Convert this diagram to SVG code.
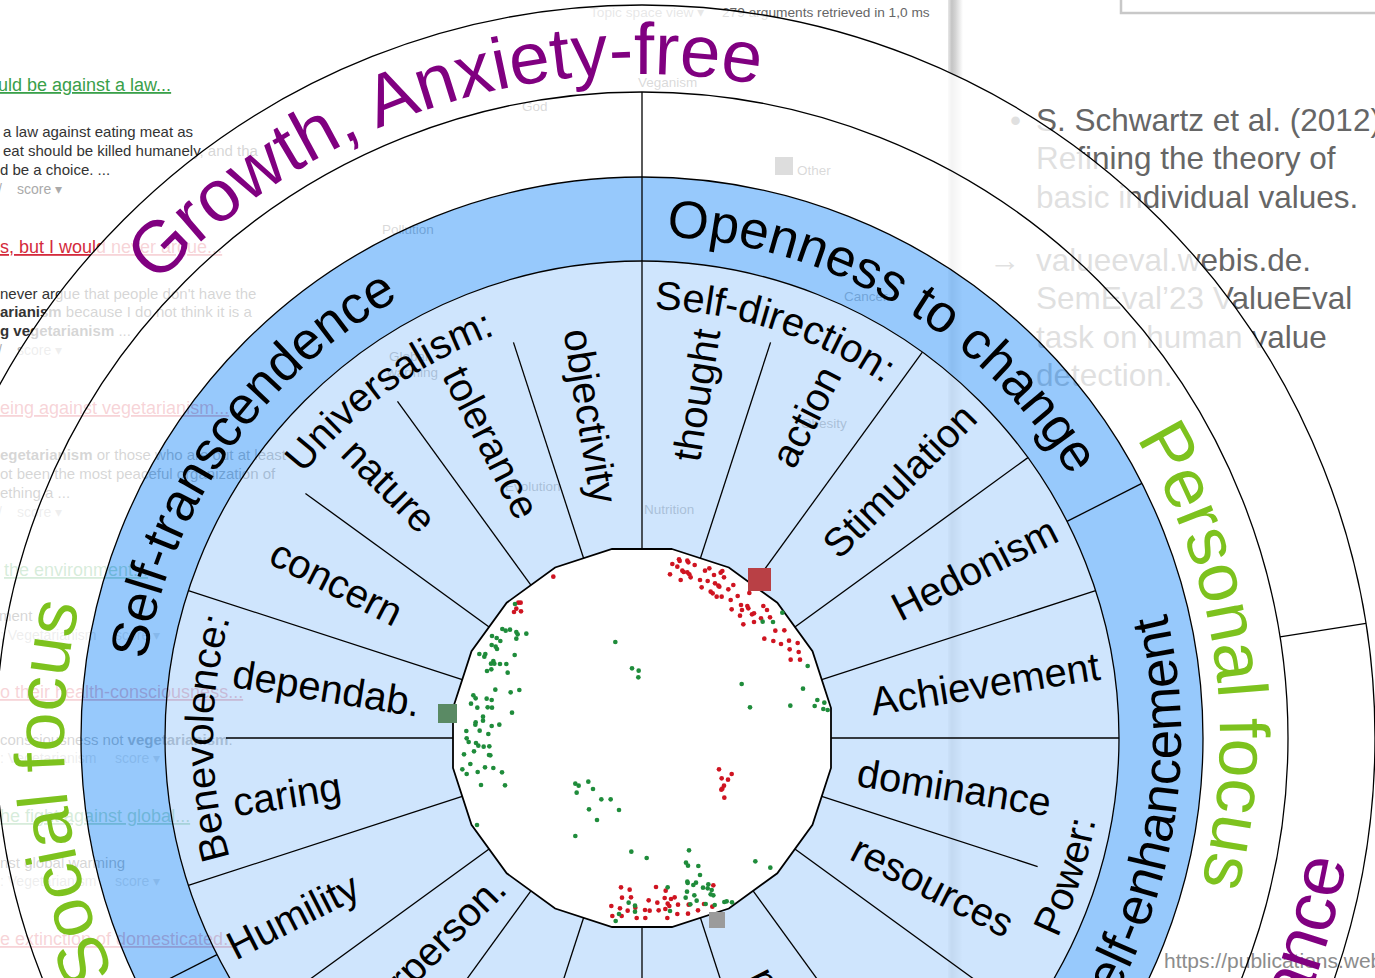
<svg xmlns="http://www.w3.org/2000/svg" width="1375" height="978" viewBox="0 0 1375 978">
<defs>
<style>
text{font-family:"Liberation Sans",Arial,"DejaVu Sans",sans-serif}
.bg{font-size:15px;fill:#333}
.lk{font-size:18px;text-decoration:underline}
.lg{fill:#3aa04a}
.lr{fill:#d42a3c}
.sc{font-size:14px;fill:#aaa}
.tp{font-size:13.5px;fill:#444}
.sl{font-size:31.5px;fill:#666}
.ln{stroke:#000;stroke-width:1.3;fill:none}
.v{font-size:40px;fill:#000}
.h{font-size:53px;fill:#000}
.g{font-size:70px;fill:#7dc21e}
.p{font-size:73px;fill:#800080}
.dr circle{fill:#cf1421}
.dg circle{fill:#1f8c3b}
</style>
<linearGradient id="bar" x1="0" x2="1" y1="0" y2="0">
<stop offset="0" stop-color="#e8e8e8"/><stop offset="0.25" stop-color="#c4c4c4"/><stop offset="0.5" stop-color="#d4d4d4"/><stop offset="1" stop-color="#ffffff"/>
</linearGradient>
<path id="top429" d="M -422.48 -74.49 A 429 429 0 0 1 422.48 -74.49"/>
<path id="bot461" d="M -454 80.05 A 461 461 0 0 0 454 80.05"/>
<path id="top502" d="M -494.37 -87.17 A 502 502 0 0 1 494.37 -87.17"/>
<path id="bot539" d="M -530.81 93.6 A 539 539 0 0 0 530.81 93.6"/>
<path id="top578" d="M -569.22 -100.37 A 578 578 0 0 1 569.22 -100.37"/>
<path id="top664" d="M -653.91 -115.3 A 664 664 0 0 1 653.91 -115.3"/>
<path id="bot715" d="M -704.14 124.16 A 715 715 0 0 0 704.14 124.16"/>
</defs>

<rect x="0" y="0" width="1375" height="978" fill="#fff"/>

<g id="background">
<rect x="948" y="0" width="15" height="978" fill="url(#bar)"/>
<rect x="1121" y="-20" width="300" height="33" fill="#fff" stroke="#c8c8c8" stroke-width="2.5"/>
<text x="590" y="17" font-size="13.7" fill="#888">Topic space view ▾</text>
<text x="722" y="17" font-size="13.7" fill="#666">279 arguments retrieved in 1,0 ms</text>

<text class="tp" x="638" y="87">Veganism</text>
<text class="tp" x="522" y="111">God</text>
<rect x="775" y="157" width="18" height="18" fill="#555"/>
<text class="tp" x="797" y="175">Other</text>
<text class="tp" x="382" y="234">Pollution</text>
<text class="tp" x="844" y="301">Cancer</text>
<text class="tp" x="801" y="428">Obesity</text>
<text class="tp" x="505" y="491">Evolution</text>
<text class="tp" x="644" y="514">Nutrition</text>
<text class="tp" x="389" y="361">Global</text>
<text class="tp" x="387" y="377">warming</text>

<text class="lk lg" x="-2" y="91">uld be against a law...</text>
<text class="bg" x="3" y="137">a law against eating meat as</text>
<text class="bg" x="3" y="156">eat should be killed humanely, and tha</text>
<text class="bg" x="0" y="175">d be a choice. ...</text>
<text class="sc" x="-2" y="194">/</text><text class="sc" x="17" y="194">score ▾</text>
<text class="lk lr" x="0" y="253">s, but I would never argue...</text>
<text class="bg" x="0" y="299">never argue that people don't have the</text>
<text class="bg" x="0" y="317"><tspan font-weight="bold">arianism</tspan> because I do not think it is a</text>
<text class="bg" x="0" y="336"><tspan font-weight="bold">g vegetarianism</tspan> ...</text>
<text class="sc" x="-2" y="355">/</text><text class="sc" x="17" y="355">score ▾</text>
<text class="lk lr" x="0" y="414">eing against vegetarianism...</text>
<text class="bg" x="0" y="460"><tspan font-weight="bold">egetarianism</tspan> or those who are out at least</text>
<text class="bg" x="0" y="479">ot been the most peaceful organization of</text>
<text class="bg" x="0" y="498">ething a ...</text>
<text class="sc" x="-2" y="517">/</text><text class="sc" x="17" y="517">score ▾</text>
<text class="lk lg" x="4" y="576">the environment...</text>
<text class="bg" x="-1" y="621">ment</text>
<text class="sc" x="0" y="640">: Vegetarianism</text><text class="sc" x="115" y="640">score ▾</text>
<text class="lk lr" x="0" y="698">o their health-consciousness...</text>
<text class="bg" x="0" y="745">consciousness not <tspan font-weight="bold">vegetarianism</tspan>.</text>
<text class="sc" x="0" y="763">: Vegetarianism</text><text class="sc" x="115" y="763">score ▾</text>
<text class="lk lg" x="0" y="822">he fight against global...</text>
<text class="bg" x="0" y="868">nst global warming</text>
<text class="sc" x="0" y="886">: Vegetarianism</text><text class="sc" x="115" y="886">score ▾</text>
<text class="lk lr" x="0" y="945">e extinction of domesticated...</text>

<text class="sl" x="1010" y="131">•</text>
<text class="sl" x="1036" y="131">S. Schwartz et al. (2012).</text>
<text class="sl" x="1036" y="169">Refining the theory of</text>
<text class="sl" x="1036" y="208">basic individual values.</text>
<text class="sl" x="989" y="271">→</text>
<text class="sl" x="1036" y="271">valueeval.webis.de.</text>
<text class="sl" x="1036" y="309">SemEval’23 ValueEval</text>
<text class="sl" x="1036" y="348">task on human value</text>
<text class="sl" x="1036" y="386">detection.</text>
</g>

<g id="wheel" transform="translate(642 738)">
<g id="rings">
<path fill="#fff" fill-opacity="0.8" fill-rule="evenodd" d="M -733 0 A 733 733 0 1 1 733 0 A 733 733 0 1 1 -733 0 Z M -561 0 A 561 561 0 1 1 561 0 A 561 561 0 1 1 -561 0 Z"/>
<path fill="#7dbbfb" fill-opacity="0.8" fill-rule="evenodd" d="M -561 0 A 561 561 0 1 1 561 0 A 561 561 0 1 1 -561 0 Z M -477 0 A 477 477 0 1 1 477 0 A 477 477 0 1 1 -477 0 Z"/>
<path fill="#c3defc" fill-opacity="0.8" fill-rule="evenodd" d="M -477 0 A 477 477 0 1 1 477 0 A 477 477 0 1 1 -477 0 Z M 29.93 -189 L 86.87 -170.49 L 135.3 -135.3 L 170.49 -86.87 L 189 -29.93 L 189 29.93 L 170.49 86.87 L 135.3 135.3 L 86.87 170.49 L 29.93 189 L -29.93 189 L -86.87 170.49 L -135.3 135.3 L -170.49 86.87 L -189 29.93 L -189 -29.93 L -170.49 -86.87 L -135.3 -135.3 L -86.87 -170.49 L -29.93 -189 Z"/>
<polygon id="centre" fill="#fff" stroke="#000" stroke-width="1.8" points="29.93,-189 86.87,-170.49 135.3,-135.3 170.49,-86.87 189,-29.93 189,29.93 170.49,86.87 135.3,135.3 86.87,170.49 29.93,189 -29.93,189 -86.87,170.49 -135.3,135.3 -170.49,86.87 -189,29.93 -189,-29.93 -170.49,-86.87 -135.3,-135.3 -86.87,-170.49 -29.93,-189"/>
</g>
</g>

<text x="1164" y="968" font-size="21" fill="#8c8c8c">https://publications.webis.de</text>

<g id="connectors" transform="translate(642 738)">
<circle class="ln" r="477"/>
<circle class="ln" r="561"/>
<circle class="ln" r="646"/>
<circle class="ln" r="733"/>
<line class="ln" y1="-189" y2="-646"/>
<line class="ln" y1="-189" y2="-477" transform="rotate(36)"/>
<line class="ln" y1="-189" y2="-477" transform="rotate(54)"/>
<line class="ln" y1="-189" y2="-477" transform="rotate(72)"/>
<line class="ln" y1="-189" y2="-477" transform="rotate(90)"/>
<line class="ln" y1="-189" y2="-477" transform="rotate(126)"/>
<line class="ln" y1="-189" y2="-477" transform="rotate(144)"/>
<line class="ln" y1="-189" y2="-477" transform="rotate(180)"/>
<line class="ln" y1="-189" y2="-477" transform="rotate(198)"/>
<line class="ln" y1="-189" y2="-477" transform="rotate(234)"/>
<line class="ln" y1="-189" y2="-477" transform="rotate(252)"/>
<line class="ln" y1="-189" y2="-477" transform="rotate(288)"/>
<line class="ln" y1="-189" y2="-416" transform="rotate(18)"/>
<line class="ln" y1="-189" y2="-416" transform="rotate(108)"/>
<line class="ln" y1="-189" y2="-416" transform="rotate(162)"/>
<line class="ln" y1="-189" y2="-416" transform="rotate(216)"/>
<line class="ln" y1="-189" y2="-416" transform="rotate(270)"/>
<line class="ln" y1="-189" y2="-416" transform="rotate(306)"/>
<line class="ln" y1="-189" y2="-416" transform="rotate(324)"/>
<line class="ln" y1="-189" y2="-416" transform="rotate(342)"/>
<line class="ln" y1="-477" y2="-561" transform="rotate(63)"/>
<line class="ln" y1="-477" y2="-561" transform="rotate(243)"/>
<line class="ln" y1="-646" y2="-733" transform="rotate(81)"/>
</g>

<g id="points" transform="translate(440 530) scale(0.333333)">
<g class="dr">
<circle cx="697" cy="102" r="7"/><circle cx="712" cy="110" r="7"/><circle cx="717" cy="88" r="7"/><circle cx="719" cy="93" r="7"/><circle cx="742" cy="92" r="7"/><circle cx="745" cy="97" r="7"/><circle cx="764" cy="105" r="7"/><circle cx="690" cy="133" r="7"/><circle cx="722" cy="150" r="7"/><circle cx="727" cy="122" r="7"/><circle cx="731" cy="126" r="7"/><circle cx="742" cy="127" r="7"/><circle cx="748" cy="133" r="7"/><circle cx="752" cy="142" r="7"/><circle cx="795" cy="122" r="7"/><circle cx="808" cy="115" r="7"/><circle cx="822" cy="135" r="7"/><circle cx="842" cy="128" r="7"/><circle cx="847" cy="123" r="7"/><circle cx="852" cy="142" r="7"/><circle cx="780" cy="150" r="7"/><circle cx="803" cy="153" r="7"/><circle cx="825" cy="160" r="7"/><circle cx="835" cy="167" r="7"/><circle cx="838" cy="170" r="7"/><circle cx="785" cy="172" r="7"/><circle cx="812" cy="185" r="7"/><circle cx="818" cy="190" r="7"/><circle cx="830" cy="200" r="7"/><circle cx="845" cy="200" r="7"/><circle cx="865" cy="178" r="7"/><circle cx="880" cy="165" r="7"/><circle cx="893" cy="198" r="7"/><circle cx="872" cy="210" r="7"/><circle cx="875" cy="238" r="7"/><circle cx="903" cy="225" r="7"/><circle cx="925" cy="235" r="7"/><circle cx="922" cy="228" r="7"/><circle cx="906" cy="240" r="7"/><circle cx="928" cy="189" r="7"/><circle cx="900" cy="257" r="7"/><circle cx="910" cy="283" r="7"/><circle cx="936" cy="253" r="7"/><circle cx="942" cy="250" r="7"/><circle cx="942" cy="276" r="7"/><circle cx="963" cy="265" r="7"/><circle cx="970" cy="228" r="7"/><circle cx="981" cy="240" r="7"/><circle cx="990" cy="262" r="7"/><circle cx="1006" cy="302" r="7"/><circle cx="1033" cy="301" r="7"/><circle cx="973" cy="326" r="7"/><circle cx="1000" cy="333" r="7"/><circle cx="1023" cy="342" r="7"/><circle cx="1047" cy="332" r="7"/><circle cx="1073" cy="339" r="7"/><circle cx="1049" cy="358" r="7"/><circle cx="1076" cy="366" r="7"/><circle cx="1052" cy="389" r="7"/><circle cx="1080" cy="389" r="7"/>
<circle cx="340" cy="140" r="7"/><circle cx="235" cy="218" r="7"/><circle cx="242" cy="218" r="7"/><circle cx="229" cy="236" r="7"/><circle cx="222" cy="246" r="7"/><circle cx="243" cy="244" r="7"/>
<circle cx="837" cy="718" r="7"/><circle cx="875" cy="732" r="7"/><circle cx="845" cy="745" r="7"/><circle cx="864" cy="749" r="7"/><circle cx="852" cy="767" r="7"/><circle cx="847" cy="776" r="7"/><circle cx="844" cy="779" r="7"/><circle cx="853" cy="803" r="7"/>
<circle cx="543" cy="1072" r="7"/><circle cx="569" cy="1079" r="7"/><circle cx="546" cy="1103" r="7"/><circle cx="573" cy="1102" r="7"/><circle cx="514" cy="1128" r="7"/><circle cx="540" cy="1135" r="7"/><circle cx="563" cy="1142" r="7"/><circle cx="586" cy="1133" r="7"/><circle cx="590" cy="1164" r="7"/><circle cx="615" cy="1140" r="7"/><circle cx="616" cy="1164" r="7"/><circle cx="629" cy="1142" r="7"/><circle cx="648" cy="1071" r="7"/><circle cx="677" cy="1082" r="7"/><circle cx="626" cy="1111" r="7"/><circle cx="652" cy="1118" r="7"/><circle cx="674" cy="1104" r="7"/><circle cx="693" cy="1107" r="7"/><circle cx="704" cy="1102" r="7"/><circle cx="683" cy="1121" r="7"/><circle cx="688" cy="1128" r="7"/><circle cx="676" cy="1137" r="7"/><circle cx="656" cy="1141" r="7"/><circle cx="682" cy="1164" r="7"/><circle cx="714" cy="1124" r="7"/><circle cx="712" cy="1152" r="7"/><circle cx="746" cy="1124" r="7"/><circle cx="744" cy="1151" r="7"/><circle cx="774" cy="1141" r="7"/><circle cx="820" cy="1066" r="7"/><circle cx="792" cy="1122" r="7"/><circle cx="817" cy="1130" r="7"/><circle cx="517" cy="1158" r="7"/><circle cx="545" cy="1158" r="7"/>
</g>
<g class="dg">
<circle cx="225" cy="222" r="7"/><circle cx="187" cy="297" r="7"/><circle cx="197" cy="302" r="7"/><circle cx="210" cy="299" r="7"/><circle cx="229" cy="306" r="7"/><circle cx="233" cy="313" r="7"/><circle cx="229" cy="326" r="7"/><circle cx="259" cy="311" r="7"/><circle cx="156" cy="318" r="7"/><circle cx="170" cy="324" r="7"/><circle cx="181" cy="333" r="7"/><circle cx="155" cy="345" r="7"/><circle cx="167" cy="350" r="7"/><circle cx="171" cy="357" r="7"/><circle cx="118" cy="372" r="7"/><circle cx="136" cy="372" r="7"/><circle cx="133" cy="380" r="7"/><circle cx="160" cy="393" r="7"/><circle cx="153" cy="401" r="7"/><circle cx="163" cy="401" r="7"/><circle cx="180" cy="402" r="7"/><circle cx="199" cy="402" r="7"/><circle cx="141" cy="423" r="7"/><circle cx="154" cy="418" r="7"/><circle cx="203" cy="428" r="7"/><circle cx="224" cy="375" r="7"/><circle cx="166" cy="479" r="7"/><circle cx="212" cy="487" r="7"/><circle cx="238" cy="480" r="7"/>
<circle cx="100" cy="496" r="7"/><circle cx="107" cy="505" r="7"/><circle cx="93" cy="521" r="7"/><circle cx="112" cy="533" r="7"/><circle cx="140" cy="506" r="7"/><circle cx="155" cy="510" r="7"/><circle cx="143" cy="532" r="7"/><circle cx="156" cy="533" r="7"/><circle cx="129" cy="560" r="7"/><circle cx="129" cy="572" r="7"/><circle cx="107" cy="577" r="7"/><circle cx="106" cy="584" r="7"/><circle cx="119" cy="602" r="7"/><circle cx="155" cy="588" r="7"/><circle cx="178" cy="584" r="7"/><circle cx="216" cy="548" r="7"/><circle cx="79" cy="603" r="7"/><circle cx="80" cy="625" r="7"/><circle cx="86" cy="636" r="7"/><circle cx="108" cy="639" r="7"/><circle cx="115" cy="647" r="7"/><circle cx="131" cy="650" r="7"/><circle cx="148" cy="649" r="7"/><circle cx="145" cy="612" r="7"/><circle cx="147" cy="675" r="7"/><circle cx="151" cy="676" r="7"/><circle cx="72" cy="673" r="7"/><circle cx="102" cy="664" r="7"/><circle cx="91" cy="702" r="7"/><circle cx="67" cy="718" r="7"/><circle cx="80" cy="732" r="7"/><circle cx="113" cy="726" r="7"/><circle cx="135" cy="712" r="7"/><circle cx="160" cy="714" r="7"/><circle cx="186" cy="727" r="7"/><circle cx="123" cy="765" r="7"/><circle cx="195" cy="766" r="7"/><circle cx="111" cy="885" r="7"/>
<circle cx="526" cy="336" r="7"/><circle cx="576" cy="415" r="7"/><circle cx="596" cy="422" r="7"/><circle cx="595" cy="442" r="7"/><circle cx="406" cy="761" r="7"/><circle cx="416" cy="767" r="7"/><circle cx="445" cy="755" r="7"/><circle cx="459" cy="777" r="7"/><circle cx="410" cy="788" r="7"/><circle cx="484" cy="808" r="7"/><circle cx="512" cy="808" r="7"/><circle cx="447" cy="838" r="7"/><circle cx="537" cy="840" r="7"/><circle cx="471" cy="870" r="7"/><circle cx="406" cy="918" r="7"/>
<circle cx="1027" cy="248" r="7"/><circle cx="968" cy="275" r="7"/><circle cx="999" cy="276" r="7"/><circle cx="1103" cy="408" r="7"/><circle cx="905" cy="462" r="7"/><circle cx="930" cy="532" r="7"/><circle cx="1051" cy="527" r="7"/><circle cx="1089" cy="476" r="7"/><circle cx="1132" cy="510" r="7"/><circle cx="1153" cy="518" r="7"/><circle cx="1124" cy="528" r="7"/><circle cx="1150" cy="537" r="7"/><circle cx="1163" cy="540" r="7"/>
<circle cx="574" cy="965" r="7"/><circle cx="620" cy="984" r="7"/><circle cx="747" cy="961" r="7"/><circle cx="738" cy="998" r="7"/><circle cx="744" cy="1007" r="7"/><circle cx="775" cy="1008" r="7"/><circle cx="780" cy="1035" r="7"/><circle cx="742" cy="1055" r="7"/><circle cx="743" cy="1059" r="7"/><circle cx="768" cy="1058" r="7"/><circle cx="760" cy="1065" r="7"/><circle cx="789" cy="1073" r="7"/><circle cx="805" cy="1063" r="7"/><circle cx="803" cy="1075" r="7"/><circle cx="815" cy="1080" r="7"/><circle cx="812" cy="1093" r="7"/><circle cx="820" cy="1096" r="7"/><circle cx="741" cy="1085" r="7"/><circle cx="763" cy="1096" r="7"/><circle cx="737" cy="1103" r="7"/><circle cx="770" cy="1112" r="7"/><circle cx="751" cy="1123" r="7"/><circle cx="797" cy="1122" r="7"/><circle cx="824" cy="1125" r="7"/><circle cx="683" cy="1072" r="7"/><circle cx="690" cy="1143" r="7"/><circle cx="585" cy="1127" r="7"/><circle cx="585" cy="1145" r="7"/><circle cx="566" cy="1118" r="7"/><circle cx="537" cy="1152" r="7"/><circle cx="527" cy="1173" r="7"/><circle cx="853" cy="1116" r="7"/><circle cx="860" cy="1114" r="7"/><circle cx="876" cy="1117" r="7"/><circle cx="946" cy="994" r="7"/><circle cx="991" cy="1013" r="7"/>
</g>
</g>

<g id="markers">
<rect id="sq-red" x="748" y="568" width="23" height="23" fill="#b94045"/>
<rect id="sq-green" x="438" y="704" width="19" height="19" fill="#5a8a64"/>
<rect id="sq-grey" x="709" y="912" width="16" height="16" fill="#9b9b9b"/>
</g>

<g id="labels" transform="translate(642 738)">
<g id="values">
<text class="v" transform="rotate(-81)" x="414" dy=".35em" text-anchor="end">thought</text>
<text class="v" transform="rotate(-63)" x="414" dy=".35em" text-anchor="end">action</text>
<text class="v" transform="rotate(-45)" x="463" dy=".35em" text-anchor="end">Stimulation</text>
<text class="v" transform="rotate(-27)" x="463" dy=".35em" text-anchor="end">Hedonism</text>
<text class="v" transform="rotate(-9)" x="463" dy=".35em" text-anchor="end">Achievement</text>
<text class="v" transform="rotate(9)" x="414" dy=".35em" text-anchor="end">dominance</text>
<text class="v" transform="rotate(27)" x="414" dy=".35em" text-anchor="end">resources</text>
<text class="v" transform="rotate(63)" x="414" dy=".35em" text-anchor="end">personal</text>
<text class="v" transform="rotate(-45)" x="-414" dy=".35em">interperson.</text>
<text class="v" transform="rotate(-27)" x="-463" dy=".35em">Humility</text>
<text class="v" transform="rotate(-9)" x="-414" dy=".35em">caring</text>
<text class="v" transform="rotate(9)" x="-414" dy=".35em">dependab.</text>
<text class="v" transform="rotate(27)" x="-414" dy=".35em">concern</text>
<text class="v" transform="rotate(45)" x="-414" dy=".35em">nature</text>
<text class="v" transform="rotate(63)" x="-414" dy=".35em">tolerance</text>
<text class="v" transform="rotate(81)" x="-414" dy=".35em">objectivity</text>
</g>
<g id="value-groups">
<text class="v" transform="rotate(18)"><textPath href="#top429" startOffset="50%" text-anchor="middle">Self-direction:</textPath></text>
<text class="v" transform="rotate(-36)"><textPath href="#top429" startOffset="50%" text-anchor="middle">Universalism:</textPath></text>
<text class="v" transform="rotate(-90)"><textPath href="#top429" startOffset="50%" text-anchor="middle">Benevolence:</textPath></text>
<text class="v" transform="rotate(-72)"><textPath href="#bot461" startOffset="50%" text-anchor="middle">Power:</textPath></text>
</g>
<g id="higher-order">
<text class="h" transform="rotate(30.7)"><textPath href="#top502" startOffset="50%" text-anchor="middle">Openness to change</textPath></text>
<text class="h" transform="rotate(-55)"><textPath href="#top502" startOffset="50%" text-anchor="middle">Self-transcendence</textPath></text>
<text class="h" transform="rotate(-80.5)"><textPath href="#bot539" startOffset="50%" text-anchor="middle">Self-enhancement</textPath></text>
</g>
<g id="focus">
<text class="g" transform="rotate(81.7)"><textPath href="#top578" startOffset="50%" text-anchor="middle">Personal focus</textPath></text>
<text class="g" transform="rotate(-95.4)"><textPath href="#top578" startOffset="50%" text-anchor="middle">Social focus</textPath></text>
</g>
<g id="anxiety">
<text class="p" transform="rotate(-18.4)"><textPath href="#top664" startOffset="50%" text-anchor="middle">Growth, Anxiety-free</textPath></text>
<text class="p" font-size="78" transform="rotate(-35.9)"><textPath href="#bot715" startOffset="50%" text-anchor="middle">Self-protection, Anxiety-avoidance</textPath></text>
</g>
</g>
</svg>
